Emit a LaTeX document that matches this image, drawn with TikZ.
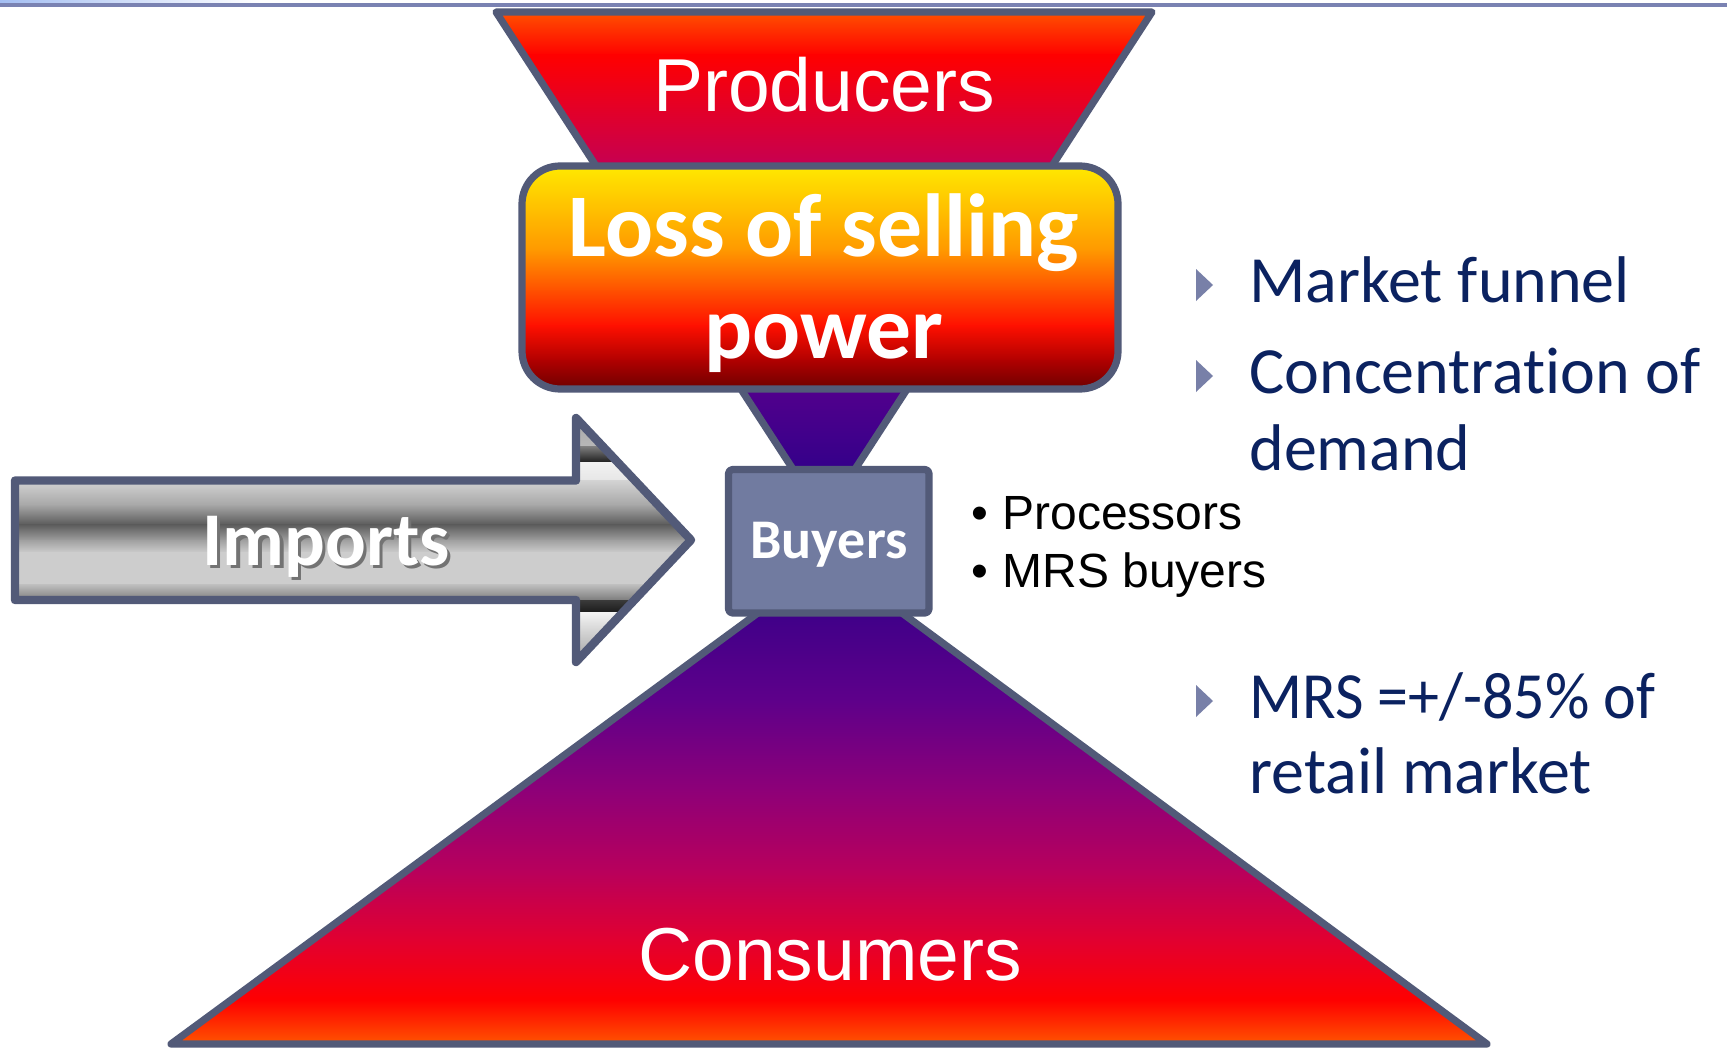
\documentclass[tikz,border=0pt]{standalone}
\usepackage{fontspec}
\setmainfont{Liberation Sans}
\newfontfamily\carlito[Ligatures=NoCommon]{Carlito}

\definecolor{edgeC}{HTML}{525A78}
\definecolor{topbar}{HTML}{7A82B2}
\definecolor{haze}{HTML}{A4BEF2}
\definecolor{buyfill}{HTML}{717BA0}
\definecolor{navy}{HTML}{0B2260}
\definecolor{marker}{HTML}{7880A8}
% funnel tones
\definecolor{fOrange}{HTML}{FF6600}
\definecolor{fRed}{HTML}{FF0000}
\definecolor{fCrimson}{HTML}{C8004E}
\definecolor{fPurple}{HTML}{50008C}
\definecolor{fIndigo}{HTML}{200088}
\definecolor{cIndigo}{HTML}{2A0088}
\definecolor{cPurple}{HTML}{5E008A}
\definecolor{cPlum}{HTML}{8E0078}
\definecolor{cMagenta}{HTML}{B8005C}
\definecolor{cRose}{HTML}{E20030}
\definecolor{cOrange}{HTML}{FF6000}
% box tones
\definecolor{bYellow}{HTML}{FFEE00}
\definecolor{bAmber}{HTML}{FF9800}
\definecolor{bTang}{HTML}{FF5000}
\definecolor{bRed}{HTML}{FF1000}
\definecolor{bDark}{HTML}{B00000}
\definecolor{bDeep}{HTML}{600000}
% metal tones
\definecolor{m1}{HTML}{A0A0A0}
\definecolor{m2}{HTML}{B8B8B8}
\definecolor{m3}{HTML}{808080}
\definecolor{m4}{HTML}{1A1A1A}
\definecolor{m5}{HTML}{F2F2F2}
\definecolor{m6}{HTML}{E6E6E6}
\definecolor{m7}{HTML}{D4D4D4}
\definecolor{m8}{HTML}{A6A6A6}
\definecolor{m9}{HTML}{5A5A5A}
\definecolor{m10}{HTML}{CDCDCD}
\definecolor{m11}{HTML}{C0C0C0}
\definecolor{m12}{HTML}{7A7A7A}
\definecolor{m13}{HTML}{3A3A3A}
\definecolor{m14}{HTML}{F4F4F4}
\definecolor{m15}{HTML}{8A8A8A}

\tikzset{
  outline/.style={draw=edgeC, line width=3.6pt, line join=round},
  band/.style 2 args={top color=#1, bottom color=#2},
  whitetext/.style={inner sep=0pt, anchor=base, text=white},
  sidetext/.style={inner sep=0pt, anchor=base west, text=navy,
    font=\carlito\fontsize{33}{38}\selectfont},
  listtext/.style={inner sep=0pt, anchor=base west, text=black,
    font=\fontsize{24}{28}\selectfont},
  pointer/.style={fill=marker, draw=none}
}

\begin{document}
\begin{tikzpicture}[x=0.5pt, y=-0.5pt]
\useasboundingbox (0,0) rectangle (1727,1048);
\fill[white] (0,0) rectangle (1727,1048);

% header rule with its faint blue wash on the left
\shade[left color=haze, right color=white] (0,0) rectangle (260,4);
\draw[topbar, line width=1.7pt] (0,5) -- (1727,5);

% ---------- upper funnel (producers) ----------
\coordinate (ptl) at (496,12);
\coordinate (ptr) at (1152,12);
\coordinate (papex) at (824,517);
\begin{scope}
  \clip (ptl) -- (ptr) -- (papex) -- cycle;
  \shade[band={fOrange}{fRed}]     (480,0)   rectangle (1170,56);
  \shade[band={fRed}{fCrimson}]    (480,55)  rectangle (1170,161);
  \shade[band={fCrimson}{fPurple}] (480,160) rectangle (1170,394);
  \shade[band={fPurple}{fIndigo}]  (480,393) rectangle (1170,525);
\end{scope}
\draw[outline] (ptl) -- (ptr) -- (papex) -- cycle;

% ---------- lower funnel (consumers) ----------
\coordinate (capex) at (830,560);
\coordinate (cbl) at (171,1044);
\coordinate (cbr) at (1487,1044);
\begin{scope}
  \clip (capex) -- (cbr) -- (cbl) -- cycle;
  \shade[band={cIndigo}{cPurple}]  (150,550) rectangle (1510,701);
  \shade[band={cPurple}{cPlum}]    (150,700) rectangle (1510,791);
  \shade[band={cPlum}{cMagenta}]   (150,790) rectangle (1510,871);
  \shade[band={cMagenta}{cRose}]   (150,870) rectangle (1510,941);
  \shade[band={cRose}{fRed}]       (150,940) rectangle (1510,1001);
  \shade[band={fRed}{cOrange}]     (150,1000) rectangle (1510,1050);
\end{scope}
\draw[outline] (capex) -- (cbr) -- (cbl) -- cycle;

% ---------- loss of selling power box ----------
\coordinate (lossnw) at (522,166);
\coordinate (losse) at (1118,389);
\begin{scope}
  \clip[rounded corners=19pt] (lossnw) rectangle (losse);
  \shade[band={bYellow}{bAmber}] (510,160) rectangle (1130,251);
  \shade[band={bAmber}{bTang}]   (510,250) rectangle (1130,291);
  \shade[band={bTang}{bRed}]     (510,290) rectangle (1130,326);
  \shade[band={bRed}{bDark}]     (510,325) rectangle (1130,361);
  \shade[band={bDark}{bDeep}]    (510,360) rectangle (1130,395);
\end{scope}
\draw[outline, rounded corners=19pt] (lossnw) rectangle (losse);

% ---------- buyers box ----------
\draw[outline, fill=buyfill, rounded corners=2pt] (728.5,469.5) rectangle (929,613);

% ---------- imports arrow ----------
\coordinate (atl) at (15,480.5);
\coordinate (anotchT) at (576,480.5);
\coordinate (aheadT) at (576,418);
\coordinate (atip) at (691,540);
\coordinate (aheadB) at (576,662);
\coordinate (anotchB) at (576,600);
\coordinate (abl) at (15,600);
\begin{scope}
  \clip (atl) -- (anotchT) -- (aheadT) -- (atip) -- (aheadB) -- (anotchB) -- (abl) -- cycle;
  \shade[band={m1}{m2}]   (0,405) rectangle (700,447);
  \shade[band={m3}{m4}]   (0,446) rectangle (700,463);
  \shade[band={m5}{m6}]   (0,462) rectangle (700,481);
  \shade[band={m7}{m8}]   (0,480) rectangle (700,506);
  \shade[band={m8}{m9}]   (0,505) rectangle (700,525);
  \shade[band={m9}{m1}]   (0,524) rectangle (700,541);
  \shade[band={m1}{m10}]  (0,540) rectangle (700,553);
  \fill[m10]              (0,552) rectangle (700,585);
  \shade[band={m11}{m12}] (0,584) rectangle (700,601);
  \shade[band={m13}{m4}]  (0,600) rectangle (700,613);
  \shade[band={m14}{m15}] (0,612) rectangle (700,675);
\end{scope}
\draw[outline, line width=4.2pt] (atl) -- (anotchT) -- (aheadT) -- (atip) -- (aheadB) -- (anotchB) -- (abl) -- cycle;

% ---------- labels in the shapes ----------
\node[whitetext, font=\fontsize{37.5}{45}\selectfont] (producers) at (824,111.7) {Producers};
\node[whitetext, font=\carlito\bfseries\fontsize{44.75}{50}\selectfont] (lossA) at (824,256.7) {Loss of selling};
\node[whitetext, font=\carlito\bfseries\fontsize{44.75}{50}\selectfont] (lossB) at (823.5,358) {power};
\node[whitetext, font=\carlito\bfseries\fontsize{28}{32}\selectfont] (buyers) at (829,558.3) {Buyers};
\node[whitetext, font=\carlito\bfseries\fontsize{38}{44}\selectfont] (imports) at (326,565)
  {\rlap{\kern1.75pt\raisebox{-1.75pt}{\textcolor{black!55}{Imports}}}Imports};
\node[whitetext, font=\fontsize{37.5}{45}\selectfont] (consumers) at (830,980) {Consumers};

% ---------- buyer types ----------
\node[inner sep=0pt, anchor=base, font=\fontsize{24}{28}\selectfont] (dotA) at (980,529) {•};
\node[listtext] (processors) at (1002,529) {Processors};
\node[inner sep=0pt, anchor=base, font=\fontsize{24}{28}\selectfont] (dotB) at (980,587) {•};
\node[listtext] (mrsbuyers) at (1002,587) {MRS buyers};

% ---------- side notes ----------
\fill[pointer] (1196,269) -- (1213,285) -- (1196,301) -- cycle;
\node[sidetext] (funnel) at (1249,302) {Market funnel};
\fill[pointer] (1196,360) -- (1213,376) -- (1196,392) -- cycle;
\node[sidetext] (concA) at (1249,393) {Concentration of};
\node[sidetext] (concB) at (1249,470) {demand};
\fill[pointer] (1196,685) -- (1213,701) -- (1196,717) -- cycle;
\node[sidetext] (shareA) at (1249,718) {\scalebox{0.94}[1]{MRS =+/-85\% of}};
\node[sidetext] (shareB) at (1249,793) {retail market};
\end{tikzpicture}
\end{document}
